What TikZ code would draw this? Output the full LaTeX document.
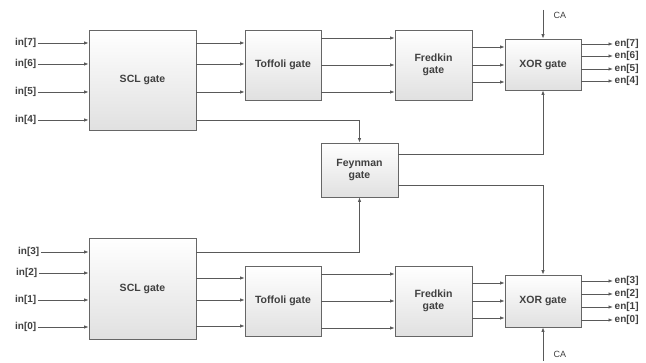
\documentclass[tikz,border=0pt]{standalone}
\usepackage{fontspec}
\setmainfont{Liberation Sans}
\usetikzlibrary{arrows.meta}
\begin{document}
\begin{tikzpicture}[x=1pt,y=-1pt,
  gatebox/.style={draw=black!60, line width=0.8pt, top color=white, bottom color=black!12,
    align=center, inner sep=0pt, font=\fontsize{10.5}{12.5}\selectfont\bfseries, text=black!75},
  pin/.style={inner sep=1.5pt, font=\fontsize{10}{12}\selectfont\bfseries, text=black!75},
  wire/.style={draw=black!65, line width=0.8pt, -{Latex[length=4.5pt,width=3.5pt]}},
  line/.style={draw=black!65, line width=0.8pt}]
\useasboundingbox (0,0) rectangle (646,363);
% upper half
\node[gatebox, minimum width=107pt, minimum height=100pt] (sclA) at (142.5,80) {SCL gate};
\node[gatebox, minimum width=76pt, minimum height=70pt] (toffA) at (283,65) {Toffoli gate};
\node[gatebox, minimum width=77pt, minimum height=70pt] (fredA) at (433.5,65) {Fredkin\\ gate};
\node[gatebox, minimum width=76pt, minimum height=51pt] (xorA) at (543,64.5) {XOR gate};
% middle
\node[gatebox, minimum width=77pt, minimum height=54pt] (feyn) at (359.5,170) {Feynman\\ gate};
% lower half
\node[gatebox, minimum width=107pt, minimum height=101pt] (sclB) at (142.5,288.5) {SCL gate};
\node[gatebox, minimum width=76pt, minimum height=70pt] (toffB) at (283,301) {Toffoli gate};
\node[gatebox, minimum width=77pt, minimum height=70pt] (fredB) at (433.5,301) {Fredkin\\ gate};
\node[gatebox, minimum width=76pt, minimum height=52pt] (xorB) at (543,301) {XOR gate};
% inputs
\node[pin, anchor=east] (in7) at (38,43) {in[7]};
\node[pin, anchor=east] (in6) at (38,64) {in[6]};
\node[pin, anchor=east] (in5) at (38,92) {in[5]};
\node[pin, anchor=east] (in4) at (38,120) {in[4]};
\node[pin, anchor=east] (in3) at (41,252) {in[3]};
\node[pin, anchor=east] (in2) at (39,273) {in[2]};
\node[pin, anchor=east] (in1) at (38,300) {in[1]};
\node[pin, anchor=east] (in0) at (38,327) {in[0]};
\foreach \n in {7,6,5,4} \draw[wire] (in\n.east) -- (in\n -| sclA.west);
\foreach \n in {3,2,1,0} \draw[wire] (in\n.east) -- (in\n -| sclB.west);
% outputs
\node[pin, anchor=west] (en7) at (613,44) {en[7]};
\node[pin, anchor=west] (en6) at (613,56) {en[6]};
\node[pin, anchor=west] (en5) at (613,69) {en[5]};
\node[pin, anchor=west] (en4) at (613,81) {en[4]};
\node[pin, anchor=west] (en3) at (613,281) {en[3]};
\node[pin, anchor=west] (en2) at (613,294) {en[2]};
\node[pin, anchor=west] (en1) at (613,307) {en[1]};
\node[pin, anchor=west] (en0) at (613,320) {en[0]};
\foreach \n in {7,6,5,4} \draw[wire] (en\n -| xorA.east) -- (en\n.west);
\foreach \n in {3,2,1,0} \draw[wire] (en\n -| xorB.east) -- (en\n.west);
% carry inputs
\coordinate (caA) at (543,10);
\coordinate (caB) at (543,361);
\node[pin, font=\fontsize{9}{11}\selectfont, anchor=west] (caAlbl) at (552,15) {CA};
\node[pin, font=\fontsize{9}{11}\selectfont, anchor=west] (caBlbl) at (552,354) {CA};
\draw[wire] (caA) -- (xorA.north);
\draw[wire] (caB) -- (xorB.south);
% SCL -> Toffoli
\draw[wire] (sclA.east |- in7) -- (toffA.west |- in7);
\draw[wire] (sclA.east |- in6) -- (toffA.west |- in6);
\draw[wire] (sclA.east |- in5) -- (toffA.west |- in5);
\foreach \s in {23,1,-25}
  \draw[wire] ([yshift=\s pt]toffB.west -| sclB.east) -- ([yshift=\s pt]toffB.west);
% Toffoli -> Fredkin
\foreach \s in {27,0,-27} {
  \draw[wire] ([yshift=\s pt]toffA.east) -- ([yshift=\s pt]fredA.west);
  \draw[wire] ([yshift=\s pt]toffB.east) -- ([yshift=\s pt]fredB.west);
}
% Fredkin -> XOR
\foreach \s in {18,0,-17} {
  \draw[wire] ([yshift=\s pt]fredA.east) -- ([yshift=\s pt]fredA.east -| xorA.west);
  \draw[wire] ([yshift=\s pt]fredB.east) -- ([yshift=\s pt]fredB.east -| xorB.west);
}
% Feynman links
\draw[wire] (sclA.east |- in4) -| (feyn.north);
\draw[wire] (sclB.east |- in3) -| (feyn.south);
\draw[wire] ([yshift=16pt]feyn.east) -| (xorA.south);
\draw[wire] ([yshift=-15pt]feyn.east) -| (xorB.north);
\end{tikzpicture}
\end{document}
